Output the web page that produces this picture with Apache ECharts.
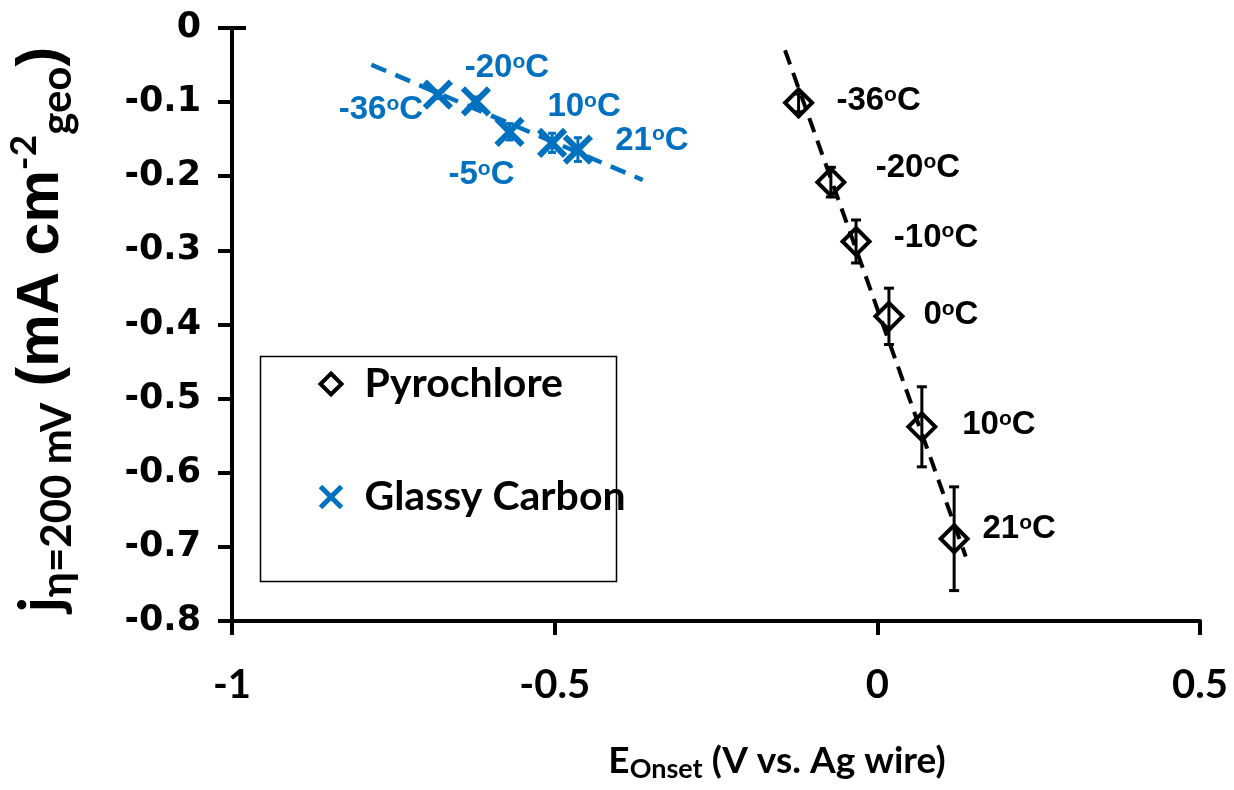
<!DOCTYPE html>
<html>
<head>
<meta charset="utf-8">
<script src="https://cdn.jsdelivr.net/npm/echarts@6/dist/echarts.min.js"></script>
<style>
  html, body { margin: 0; padding: 0; background: #ffffff; }
  #chart { width: 1234px; height: 790px; }
</style>
</head>
<body>
<div id="chart"></div>
<script>
// Pyrochlore electrode: onset potential vs current density at η = 200 mV
const pyroTemps = ['-36', '-20', '-10', '0', '10', '21'];
const pyroOnset = [-0.122, -0.072, -0.033, 0.018, 0.069, 0.119];
const pyroCurrent = [-0.101, -0.208, -0.288, -0.389, -0.538, -0.689];
const pyroError = [0.012, 0.020, 0.029, 0.038, 0.054, 0.070];
const pyroTrendX = [-0.143, 0.137];
const pyroTrendY = [-0.030, -0.713];

// Glassy carbon electrode
const gcTemps = ['-36', '-20', '-5', '10', '21'];
const gcOnset = [-0.681, -0.622, -0.570, -0.504, -0.464];
const gcCurrent = [-0.090, -0.099, -0.140, -0.155, -0.164];
const gcError = [0.005, 0.006, 0.011, 0.013, 0.016];
const gcTrendX = [-0.784, -0.3635];
const gcTrendY = [-0.0496, -0.205];

// Axis ticks
const xTicks = [-1, -0.5, 0, 0.5];
const yTicks = [0, -0.1, -0.2, -0.3, -0.4, -0.5, -0.6, -0.7, -0.8];

// Label placement (pixel offsets of each temperature tag from its marker)
const pyroLabelOffsets = [[80, -2], [87, -14], [80, -4], [62, -1], [77, -2], [65, -10]];
const gcLabelOffsets = [[-57, 15], [31, -33], [-28, 43], [32, -36], [74, -9]];

const BLUE = '#0070C0';
const BLACK = '#000000';

function tempLabel(temps, offsets, color) {
  return function (i) {
    return {
      show: true,
      position: 'inside',
      align: 'center',
      verticalAlign: 'middle',
      offset: offsets[i],
      formatter: temps[i] + '{s|o}C',
      color: color,
      fontSize: 33,
      lineHeight: 33,
      fontWeight: 'bold',
      fontFamily: 'Liberation Sans',
      rich: {
        s: { fontSize: 21, fontWeight: 'bold', fontFamily: 'Liberation Sans', color: color, verticalAlign: 'top', lineHeight: 21 }
      }
    };
  };
}

const pyroLabel = tempLabel(pyroTemps, pyroLabelOffsets, BLACK);
const gcLabel = tempLabel(gcTemps, gcLabelOffsets, BLUE);

function errorBars(color, capHalf, width) {
  return function (params, api) {
    const x = api.value(0), y = api.value(1), e = api.value(2);
    const top = api.coord([x, y + e]);
    const bot = api.coord([x, y - e]);
    const style = { stroke: color, lineWidth: width };
    return {
      type: 'group',
      children: [
        { type: 'line', shape: { x1: top[0], y1: top[1], x2: bot[0], y2: bot[1] }, style: style },
        { type: 'line', shape: { x1: top[0] - capHalf, y1: top[1], x2: top[0] + capHalf, y2: top[1] }, style: style },
        { type: 'line', shape: { x1: bot[0] - capHalf, y1: bot[1], x2: bot[0] + capHalf, y2: bot[1] }, style: style }
      ]
    };
  };
}

const chart = echarts.init(document.getElementById('chart'), null, { renderer: 'canvas' });

const option = {
  backgroundColor: '#ffffff',
  animation: false,
  grid: { left: 232, right: 34, top: 28, bottom: 169, containLabel: false, outerBoundsMode: 'none' },
  xAxis: {
    type: 'value',
    min: xTicks[0],
    max: xTicks[xTicks.length - 1],
    interval: 0.5,
    axisLine: { show: true, onZero: false, lineStyle: { color: BLACK, width: 4 } },
    axisTick: { show: true, length: 14, lineStyle: { color: BLACK, width: 4 } },
    splitLine: { show: false },
    axisLabel: {
      color: BLACK, fontSize: 40, fontWeight: 'bold', fontFamily: 'Lato', margin: 44
    },
    name: '{e|E}{sub|Onset}{e| (V vs. Ag wire)}',
    nameLocation: 'middle',
    nameGap: 118,
    nameTextStyle: {
      padding: [0, 0, 0, 122],
      rich: {
        e: { fontSize: 37, fontWeight: 'bold', fontFamily: 'Lato', color: BLACK, lineHeight: 44 },
        sub: { fontSize: 27, fontWeight: 'bold', fontFamily: 'Lato', color: BLACK, verticalAlign: 'bottom', lineHeight: 30 }
      }
    }
  },
  yAxis: [
    {
      type: 'value',
      min: yTicks[yTicks.length - 1],
      max: yTicks[0],
      interval: 0.1,
      axisLine: { show: true, onZero: false, lineStyle: { color: BLACK, width: 4 } },
      axisTick: { show: true, length: 14, lineStyle: { color: BLACK, width: 4 } },
      splitLine: { show: false },
      axisLabel: {
        color: BLACK, fontSize: 35, fontWeight: 'bold', fontFamily: 'DejaVu Sans', margin: 31,
        formatter: function (v) { return String(Math.round(v * 10) / 10); }
      },
      name: '{j|j}{sub|η=200 mV}{p| (mA cm}{sup|-2}{sub|geo}{p|)}',
      nameLocation: 'middle',
      nameGap: 154,
      nameRotate: 90,
      nameTextStyle: {
        padding: [0, 10, 0, 0],
        rich: {
          j: { fontSize: 60, fontWeight: 'bold', fontFamily: 'Lato', color: BLACK, lineHeight: 72 },
          p: { fontSize: 59, fontWeight: 'bold', fontFamily: 'Liberation Sans', color: BLACK, lineHeight: 72 },
          sub: { fontSize: 42, fontWeight: 'bold', fontFamily: 'Lato', color: BLACK, verticalAlign: 'bottom', lineHeight: 42 },
          sup: { fontSize: 37, fontWeight: 'bold', fontFamily: 'Lato', color: BLACK, verticalAlign: 'top', lineHeight: 37 }
        }
      }
    },
    {
      // zero tick crossing into the plot area
      type: 'value',
      position: 'left',
      min: yTicks[yTicks.length - 1],
      max: yTicks[0],
      interval: 0.1,
      axisLine: { show: false, onZero: false },
      axisTick: { show: true, inside: true, length: 14, customValues: [0], lineStyle: { color: BLACK, width: 4 } },
      axisLabel: { show: false },
      splitLine: { show: false }
    }
  ],
  legend: {
    data: [
      { name: 'Pyrochlore', itemStyle: { color: 'rgba(255,255,255,0)', borderColor: BLACK, borderWidth: 4 } },
      { name: 'Glassy Carbon', itemStyle: { color: 'rgba(0,0,0,0)', borderColor: BLUE, borderWidth: 5 } }
    ],
    orient: 'vertical',
    left: 313,
    top: 357,
    itemGap: 69,
    itemWidth: 21,
    itemHeight: 21,
    textStyle: { fontSize: 41, fontWeight: 'bold', fontFamily: 'Lato', color: BLACK, lineHeight: 44, padding: [0, 0, 0, 18] },
    selectedMode: false
  },
  graphic: [
    {
      type: 'rect',
      left: 258, top: 354,
      shape: { width: 356, height: 225 },
      style: { fill: 'none', stroke: BLACK, lineWidth: 1.5 },
      z: 0
    }
  ],
  series: [
    {
      name: 'Pyrochlore trend',
      type: 'line',
      data: pyroTrendX.map((x, i) => [x, pyroTrendY[i]]),
      showSymbol: false,
      silent: true,
      lineStyle: { color: BLACK, width: 4, type: [15, 9] },
      z: 2
    },
    {
      name: 'Glassy Carbon trend',
      type: 'line',
      data: gcTrendX.map((x, i) => [x, gcTrendY[i]]),
      showSymbol: false,
      silent: true,
      lineStyle: { color: BLUE, width: 4.5, type: [16, 10] },
      z: 2
    },
    {
      name: 'Pyrochlore error',
      type: 'custom',
      renderItem: errorBars(BLACK, 5, 3),
      data: pyroOnset.map((x, i) => [x, pyroCurrent[i], pyroError[i]]),
      silent: true,
      z: 3
    },
    {
      name: 'Glassy Carbon error',
      type: 'custom',
      renderItem: errorBars(BLUE, 4, 3),
      data: gcOnset.map((x, i) => [x, gcCurrent[i], gcError[i]]),
      silent: true,
      z: 3
    },
    {
      name: 'Pyrochlore',
      type: 'scatter',
      symbol: 'diamond',
      symbolSize: 27,
      itemStyle: { color: 'rgba(255,255,255,0)', borderColor: BLACK, borderWidth: 4, opacity: 1 },
      data: pyroOnset.map((x, i) => ({ value: [x, pyroCurrent[i]], label: pyroLabel(i) })),
      z: 4
    },
    {
      name: 'Glassy Carbon',
      type: 'scatter',
      symbol: 'path://M0,0L10,10M10,0L0,10',
      symbolSize: 26,
      itemStyle: { color: 'rgba(0,0,0,0)', borderColor: BLUE, borderWidth: 6, opacity: 1 },
      data: gcOnset.map((x, i) => ({ value: [x, gcCurrent[i]], label: gcLabel(i) })),
      z: 4
    }
  ]
};

chart.setOption(option);
</script>
</body>
</html>
